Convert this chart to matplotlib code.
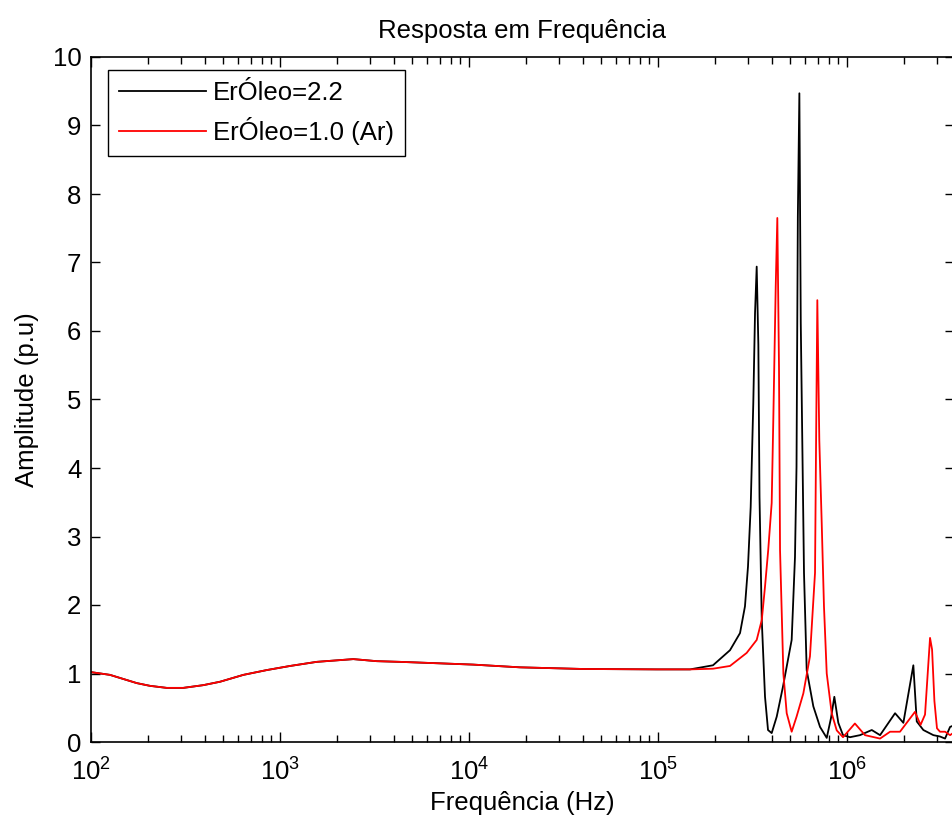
import numpy as np
import matplotlib
matplotlib.use("Agg")
import matplotlib.pyplot as plt
from matplotlib.ticker import LogLocator, FixedLocator, FixedFormatter, NullFormatter

plt.rcParams['font.family'] = ['Liberation Sans', 'DejaVu Sans']
plt.rcParams['mathtext.default'] = 'regular'

# ---------------- data ----------------
# common low-frequency part (both curves overlap)
freq_low = [100, 126, 174.5, 205, 251.5, 307.6, 393, 482, 640, 851, 1130, 1564,
            2443, 3250, 4315, 6745, 10500, 18620, 40100, 98900, 147700]
amp_low = [1.02, 0.98, 0.86, 0.82, 0.79, 0.79, 0.83, 0.88, 0.98, 1.05, 1.11, 1.17,
           1.21, 1.18, 1.17, 1.15, 1.13, 1.09, 1.066, 1.06, 1.06]

# ErOleo = 2.2 (black) high-frequency part
freq_black = [195400, 240400, 271600, 288500, 299300, 309300, 319300, 326100, 332800,
              339600, 344400, 354000, 368300, 382000, 399500, 424800, 458500, 509600,
              530600, 540600, 549400, 559700, 569300, 592200, 611900, 663500, 719900,
              781200, 822800, 857000, 899500, 952600, 1037000, 1172000, 1352000,
              1496000, 1796000, 1987000, 2244000, 2339000, 2535000, 2864000, 3105000,
              3302000, 3510000, 3727000]
amp_black = [1.12, 1.34, 1.59, 1.98, 2.56, 3.43, 4.95, 6.26, 6.94,
             5.8, 3.58, 1.78, 0.66, 0.175, 0.13, 0.37, 0.81, 1.49,
             2.7, 4.02, 7.67, 9.47, 6.12, 2.47, 1.05, 0.52, 0.22,
             0.06, 0.35, 0.66, 0.28, 0.1, 0.07, 0.1, 0.175,
             0.1, 0.42, 0.28, 1.12, 0.3, 0.175, 0.1, 0.08,
             0.05, 0.22, 0.25]

# ErOleo = 1.0 (Ar) (red) high-frequency part
freq_red = [195400, 240400, 294400, 332800, 354000, 368300, 382900, 399500, 407400,
            419600, 427900, 436700, 442300, 460600, 479700, 509600, 541000, 587500,
            636800, 677300, 685500, 696600, 713700, 734800, 755400, 781200, 829800,
            882200, 952600, 1101000, 1245000, 1496000, 1690000, 1907000, 2289000,
            2450000, 2587000, 2750000, 2819000, 2900000, 2993000, 3105000, 3302000,
            3510000, 3727000]
amp_red = [1.07, 1.11, 1.30, 1.49, 1.78, 2.27, 2.8, 3.49, 4.7,
           6.65, 7.65, 5.48, 2.8, 1.0, 0.42, 0.15, 0.37, 0.71,
           1.25, 2.47, 4.26, 6.45, 4.4, 3.2, 1.98, 1.0, 0.42,
           0.17, 0.07, 0.27, 0.1, 0.05, 0.15, 0.15, 0.44,
           0.25, 0.4, 1.52, 1.35, 0.6, 0.2, 0.15, 0.15,
           0.1, 0.15]

labels = ['ErÓleo=2.2', 'ErÓleo=1.0 (Ar)']
xtick_vals = [1e2, 1e3, 1e4, 1e5, 1e6]
xtick_labels = [r'$\mathregular{10^{2}}$', r'$\mathregular{10^{3}}$', r'$\mathregular{10^{4}}$',
                r'$\mathregular{10^{5}}$', r'$\mathregular{10^{6}}$']
ytick_vals = list(range(0, 11))

# ---------------- figure ----------------
W, H = 952, 821
fig = plt.figure(figsize=(W / 100, H / 100), dpi=100)
left, right, top, bottom = 91, 953.5, 57, 742
ax = fig.add_axes([left / W, (H - bottom) / H, (right - left) / W, (bottom - top) / H])

fb = freq_low + freq_black
ab = amp_low + amp_black
fr = freq_low + freq_red
ar = amp_low + amp_red

ax.plot(fb, ab, color='black', lw=1.3, label=labels[0])
ax.plot(fr, ar, color='red', lw=1.3, label=labels[1])

ax.set_xscale('log')
ax.set_xlim(1e2, 3.66e6)
ax.set_ylim(0, 10)

ax.xaxis.set_major_locator(FixedLocator(xtick_vals))
ax.xaxis.set_major_formatter(FixedFormatter(xtick_labels))
ax.xaxis.set_minor_locator(LogLocator(base=10, subs=np.arange(2, 10), numticks=20))
ax.xaxis.set_minor_formatter(NullFormatter())
ax.set_yticks(ytick_vals)

ax.tick_params(which='both', direction='in', top=True, right=True, labelsize=18.5, width=1.0)
ax.tick_params(axis='x', which='major', length=7.5, pad=12)
ax.tick_params(axis='x', which='minor', length=4.8)
ax.tick_params(axis='y', which='major', length=6.2, pad=7)
for s in ax.spines.values():
    s.set_linewidth(1.2)

ax.set_title('Resposta em Frequência', fontsize=18.5, pad=14)
ax.set_xlabel('Frequência (Hz)', fontsize=18.5, labelpad=4)
ax.set_ylabel('Amplitude (p.u)', fontsize=18.5, labelpad=10)

leg = ax.legend(loc='upper left',
                bbox_to_anchor=((108 - left) / (right - left), (bottom - 70) / (bottom - top)),
                borderaxespad=0, fontsize=18.5, handlelength=3.4, handletextpad=0.27,
                labelspacing=0.47, borderpad=0.42, fancybox=False, framealpha=1,
                edgecolor='black')
leg.get_frame().set_linewidth(1.0)

fig.savefig('out.png', dpi=100)
